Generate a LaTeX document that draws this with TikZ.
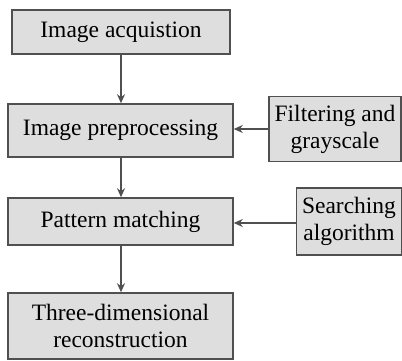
\documentclass[tikz,border=0pt]{standalone}
\usepackage{fontspec}
\setmainfont{Liberation Serif}
\usetikzlibrary{arrows.meta}
\definecolor{boxfill}{HTML}{DEDEDE}
\definecolor{boxline}{HTML}{505050}
\begin{document}
\begin{tikzpicture}[x=1pt,y=-1pt,
  box/.style={draw=boxline, fill=boxfill, line width=1.5pt, inner sep=0pt,
    font=\fontsize{23.5}{27}\selectfont, align=center},
  conn/.style={draw=boxline, line width=1.5pt, -{Stealth[length=9pt,width=8pt]}}]
\useasboundingbox (0,0) rectangle (402,361);
\node[box, minimum width=218pt, minimum height=44pt] (acq) at (121,32) {Image acquistion};
\node[box, minimum width=225pt, minimum height=53pt] (pre) at (120.5,130.5) {Image preprocessing};
\node[box, minimum width=132pt, minimum height=65pt] (filt) at (335,129) {Filtering and\\grayscale};
\node[box, minimum width=225pt, minimum height=47pt] (pat) at (120.5,221.5) {Pattern matching};
\node[box, minimum width=105pt, minimum height=67pt] (srch) at (349,221.5) {Searching\\algorithm};
\node[box, minimum width=225pt, minimum height=66pt] (rec) at (120.5,326) {Three-dimensional\\reconstruction};
\draw[conn] (acq.south -| 121,0) -- (pre.north -| 121,0);
\draw[conn] (filt.west |- 0,129) -- (pre.east |- 0,129);
\draw[conn] (pre.south -| 121,0) -- (pat.north -| 121,0);
\draw[conn] (srch.west |- 0,223) -- (pat.east |- 0,223);
\draw[conn] (pat.south -| 121,0) -- (rec.north -| 121,0);
\end{tikzpicture}
\end{document}
